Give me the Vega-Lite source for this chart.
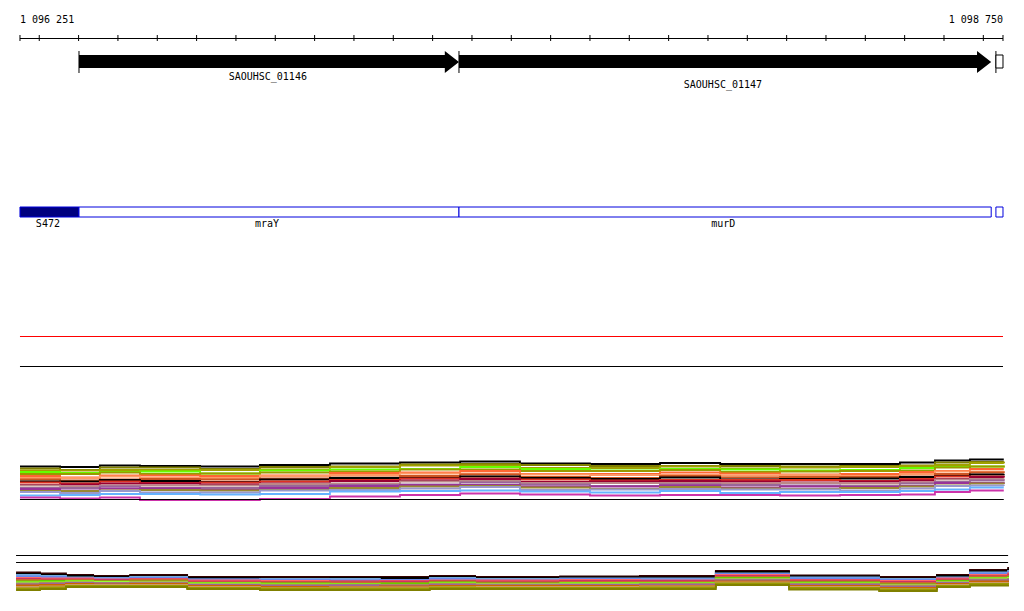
{
"$schema": "https://vega.github.io/schema/vega-lite/v6.json",
"width": 1024, "height": 611,
"autosize": {"type": "fit", "contains": "padding"},
"padding": 0,
"background": "white",
"config": {"view": {"stroke": null}},
"datasets": {
"mid": [
{"x":1096251,"a":466.5,"b":468.5,"c":470.5,"d":472,"e":474,"f":476,"g":478,"h":479.5,"i":481.5,"j":482.5,"k":485,"l":485.5,"m":488,"n":489,"o":491,"p":492,"q":495.5,"r":497.5},
{"x":1096353,"a":467,"b":470,"c":470.5,"d":473,"e":474,"f":477.5,"g":478,"h":480.5,"i":481.5,"j":483.5,"k":484.5,"l":486.5,"m":488,"n":490.5,"o":491,"p":493,"q":495,"r":498.5},
{"x":1096454,"a":465.5,"b":467.5,"c":470,"d":472,"e":472.5,"f":475.5,"g":476.5,"h":479.5,"i":480,"j":481.5,"k":483.5,"l":485.5,"m":486.5,"n":488.5,"o":490.5,"p":491,"q":494,"r":497.5},
{"x":1096556,"a":466,"b":467.5,"c":470,"d":471.5,"e":474,"f":475.5,"g":478,"h":479,"i":481,"j":483,"k":483.5,"l":485.5,"m":488,"n":488.5,"o":490,"p":492.5,"q":494,"r":500},
{"x":1096709,"a":466.5,"b":469,"c":470,"d":473.5,"e":473.5,"f":476,"g":478,"h":479.5,"i":482,"j":482.5,"k":484.5,"l":485.5,"m":488,"n":490,"o":490.5,"p":492.5,"q":494.5,"r":500},
{"x":1096861,"a":465,"b":467,"c":469.5,"d":470.5,"e":472.5,"f":475.5,"g":476,"h":478.5,"i":479.5,"j":481.5,"k":483.5,"l":484,"m":486,"n":488,"o":490,"p":490.5,"q":494,"r":499},
{"x":1097039,"a":463.5,"b":466.5,"c":467,"d":469.5,"e":471.5,"f":473,"g":475,"h":477.5,"i":478,"j":480,"k":481,"l":483.5,"m":485,"n":486,"o":488,"p":490,"q":491.5,"r":496.5},
{"x":1097217,"a":462.5,"b":464.5,"c":465.5,"d":469,"e":469.5,"f":472.5,"g":473.5,"h":476,"i":478,"j":478.5,"k":480.5,"l":481.5,"m":484.5,"n":485,"o":486.5,"p":488.5,"q":491,"r":495},
{"x":1097370,"a":461.5,"b":464,"c":465.5,"d":467,"e":469.5,"f":471,"g":473.5,"h":474.5,"i":476.5,"j":478.5,"k":479,"l":481,"m":482.5,"n":485,"o":486,"p":487,"q":490.5,"r":493.5},
{"x":1097522,"a":463.5,"b":465,"c":468,"d":469,"e":471,"f":474,"g":474.5,"h":477,"i":478,"j":479.5,"k":482,"l":483,"m":484.5,"n":486.5,"o":487.5,"p":490,"q":491.5,"r":494.5},
{"x":1097700,"a":464,"b":466,"c":468,"d":470.5,"e":471,"f":474,"g":475,"h":478,"i":479,"j":480.5,"k":481.5,"l":483,"m":486,"n":486.5,"o":489,"p":489.5,"q":492.5,"r":495.5},
{"x":1097878,"a":463,"b":466,"c":466.5,"d":469,"e":470,"f":472.5,"g":475,"h":476,"i":477.5,"j":480,"k":481,"l":483,"m":484.5,"n":485.5,"o":487,"p":489,"q":491,"r":495},
{"x":1098031,"a":464,"b":466,"c":468.5,"d":469.5,"e":472,"f":473.5,"g":475.5,"h":477.5,"i":479.5,"j":480,"k":481.5,"l":483.5,"m":485,"n":487.5,"o":488.5,"p":489.5,"q":493,"r":495},
{"x":1098183,"a":464,"b":466.5,"c":467.5,"d":470.5,"e":471.5,"f":474.5,"g":475,"h":477,"i":479,"j":480,"k":482.5,"l":483,"m":485.5,"n":486.5,"o":489,"p":489.5,"q":492,"r":495.5},
{"x":1098336,"a":464,"b":466,"c":467,"d":470,"e":471,"f":474,"g":476,"h":477,"i":478.5,"j":481,"k":481.5,"l":483.5,"m":486,"n":487,"o":488,"p":490.5,"q":492,"r":495},
{"x":1098488,"a":462.5,"b":465.5,"c":466,"d":468,"e":470.5,"f":472,"g":474,"h":476.5,"i":477,"j":479,"k":480.5,"l":482.5,"m":483.5,"n":486,"o":486.5,"p":488.5,"q":491,"r":494.5},
{"x":1098577,"a":460.5,"b":462.5,"c":465,"d":467,"e":467.5,"f":471,"g":471.5,"h":474,"i":476,"j":476.5,"k":479,"l":479.5,"m":482,"n":483,"o":485.5,"p":486,"q":489.5,"r":492},
{"x":1098666,"a":459.5,"b":462,"c":463,"d":466.5,"e":466.5,"f":469,"g":471.5,"h":472.5,"i":474.5,"j":476.5,"k":477,"l":479,"m":480.5,"n":483,"o":483.5,"p":485.5,"q":487.5,"r":490.5},
{"x":1098752,"a":459.5,"b":461.5,"c":463.5,"d":465.5,"e":467.5,"f":469,"g":471,"h":473.5,"i":474,"j":476,"k":477.5,"l":478.5,"m":481.5,"n":482,"o":484,"p":486,"q":487.5,"r":490.5}
],
"bot": [
{"x":1096241,"A":572.5,"B":574,"C":575,"D":576.5,"E":578,"F":579,"G":580,"H":581.5,"I":582.5,"J":583.5,"K":584.5,"L":585.5,"M":587,"N":588.5,"O":590},
{"x":1096302,"A":573.5,"B":575,"C":576,"D":577,"E":578.5,"F":579.5,"G":580.5,"H":581,"I":582.5,"J":583,"K":584,"L":585,"M":586.5,"N":587.5,"O":589},
{"x":1096368,"A":575,"B":576,"C":577.5,"D":578,"E":578.5,"F":579.5,"G":580,"H":581,"I":581.5,"J":582.5,"K":583,"L":584,"M":585,"N":586,"O":587},
{"x":1096437,"A":576,"B":577,"C":578,"D":578.5,"E":579.5,"F":580,"G":581,"H":581.5,"I":582,"J":583,"K":583.5,"L":584.5,"M":585,"N":586,"O":587},
{"x":1096531,"A":575,"B":576.5,"C":577,"D":578,"E":579,"F":579.5,"G":580,"H":581.5,"I":582,"J":582.5,"K":583.5,"L":584,"M":585,"N":586,"O":587},
{"x":1096676,"A":577,"B":578,"C":579.5,"D":579.5,"E":580.5,"F":581.5,"G":582.5,"H":583,"I":583.5,"J":584.5,"K":585,"L":586,"M":587,"N":588,"O":589},
{"x":1096861,"A":577,"B":578.5,"C":579,"D":580,"E":581,"F":582,"G":582.5,"H":583.5,"I":584.5,"J":585,"K":586,"L":587,"M":588,"N":588.5,"O":590},
{"x":1097039,"A":577,"B":578,"C":579,"D":580.5,"E":581.5,"F":581.5,"G":582.5,"H":584,"I":584.5,"J":585,"K":585.5,"L":587,"M":587.5,"N":588.5,"O":590},
{"x":1097166,"A":577,"B":578,"C":580,"D":580,"E":581,"F":581.5,"G":583,"H":583.5,"I":585,"J":585,"K":586,"L":586.5,"M":587.5,"N":588.5,"O":590},
{"x":1097293,"A":576,"B":577,"C":578,"D":579,"E":580.5,"F":581,"G":581.5,"H":582.5,"I":583.5,"J":584,"K":585,"L":586,"M":587,"N":587.5,"O":589},
{"x":1097408,"A":577,"B":578,"C":579,"D":580,"E":580.5,"F":581.5,"G":582.5,"H":583.5,"I":584,"J":584.5,"K":585.5,"L":586,"M":587,"N":588,"O":589},
{"x":1097624,"A":576.5,"B":577.5,"C":578.5,"D":579,"E":580,"F":581,"G":582,"H":583,"I":583.5,"J":584.5,"K":585,"L":586,"M":587,"N":588,"O":589},
{"x":1097827,"A":576,"B":577.5,"C":578.5,"D":579.5,"E":580.5,"F":581,"G":582,"H":583,"I":583.5,"J":584,"K":585,"L":586,"M":586.5,"N":587.5,"O":589},
{"x":1098020,"A":571,"B":572,"C":573.5,"D":574,"E":575,"F":576,"G":577,"H":578,"I":579,"J":579.5,"K":580.5,"L":581.5,"M":582.5,"N":583.5,"O":585},
{"x":1098206,"A":575.5,"B":576.5,"C":577.5,"D":578.5,"E":580,"F":580.5,"G":581.5,"H":582.5,"I":583.5,"J":584,"K":585,"L":586,"M":587,"N":588,"O":589.5},
{"x":1098435,"A":577,"B":578.5,"C":579,"D":580,"E":581,"F":582,"G":583,"H":584.5,"I":585,"J":585.5,"K":587,"L":588,"M":589,"N":589.5,"O":591},
{"x":1098582,"A":575,"B":576,"C":577.5,"D":578,"E":578.5,"F":579.5,"G":580.5,"H":581,"I":582,"J":582.5,"K":583,"L":584,"M":585,"N":586,"O":587},
{"x":1098666,"A":570,"B":571.5,"C":572.5,"D":573.5,"E":575,"F":576,"G":576.5,"H":578,"I":578.5,"J":579.5,"K":580.5,"L":581.5,"M":583,"N":584,"O":585.5},
{"x":1098763,"A":567,"B":568.5,"C":570,"D":571,"E":572.5,"F":573.5,"G":575,"H":576,"I":577,"J":578,"K":579,"L":580.5,"M":582,"N":583,"O":585}
],
"hr": [
{"x":1096251,"x2":1098750,"y":38.5},
{"x":1096251,"x2":1098750,"y":366.5},
{"x":1096251,"x2":1098752,"y":499.5},
{"x":1096241,"x2":1098763,"y":555.5},
{"x":1096241,"x2":1098763,"y":562.5}
],
"red": [{"x":1096251,"x2":1098750,"y":336.5}],
"vr": [
{"x":1096251,"y":35,"y2":41},{"x":1096300,"y":35,"y2":41},{"x":1096400,"y":35,"y2":41},{"x":1096500,"y":35,"y2":41},
{"x":1096600,"y":35,"y2":41},{"x":1096700,"y":35,"y2":41},{"x":1096800,"y":35,"y2":41},{"x":1096900,"y":35,"y2":41},
{"x":1097000,"y":35,"y2":41},{"x":1097100,"y":35,"y2":41},{"x":1097200,"y":35,"y2":41},{"x":1097300,"y":35,"y2":41},
{"x":1097400,"y":35,"y2":41},{"x":1097500,"y":35,"y2":41},{"x":1097600,"y":35,"y2":41},{"x":1097700,"y":35,"y2":41},
{"x":1097800,"y":35,"y2":41},{"x":1097900,"y":35,"y2":41},{"x":1098000,"y":35,"y2":41},{"x":1098100,"y":35,"y2":41},
{"x":1098200,"y":35,"y2":41},{"x":1098300,"y":35,"y2":41},{"x":1098400,"y":35,"y2":41},{"x":1098500,"y":35,"y2":41},
{"x":1098600,"y":35,"y2":41},{"x":1098700,"y":35,"y2":41},{"x":1098750,"y":35,"y2":41},
{"x":1096401,"y":51,"y2":73},{"x":1097367,"y":51,"y2":73},{"x":1098732,"y":51,"y2":73}
],
"arrows": [
{"g":"1","x":1096401,"y":55,"y2":68},{"g":"1","x":1097331,"y":55,"y2":68},{"g":"1","x":1097331,"y":51,"y2":73},{"g":"1","x":1097367,"y":62,"y2":62},
{"g":"2","x":1097367,"y":55,"y2":68},{"g":"2","x":1098684,"y":55,"y2":68},{"g":"2","x":1098684,"y":51,"y2":73},{"g":"2","x":1098720,"y":62,"y2":62}
],
"blue": [
{"c":"filled","x":1096251,"x2":1096401,"y":207,"y2":217},
{"c":"open","x":1096401,"x2":1097367,"y":207,"y2":217},
{"c":"open","x":1097367,"x2":1098720,"y":207,"y2":217},
{"c":"open","x":1098732,"x2":1098750,"y":207,"y2":217}
],
"gbox": [{"x":1098732,"x2":1098750,"y":55,"y2":68}],
"labl": [{"t":"1 096 251","x":1096251,"y":23}],
"labr": [{"t":"1 098 750","x":1098750,"y":23}],
"labc": [
{"t":"SAOUHSC_01146","x":1096881,"y":80},
{"t":"SAOUHSC_01147","x":1098038,"y":88},
{"t":"S472","x":1096322,"y":227},
{"t":"mraY","x":1096879,"y":227},
{"t":"murD","x":1098039,"y":227}
]
},
"encoding": {
"x": {"field":"x","type":"quantitative","scale":{"domain":[1096200.2,1098803.4],"nice":false,"zero":false},"axis":null},
"y": {"field":"y","type":"quantitative","scale":{"domain":[0,611],"reverse":true,"nice":false,"zero":false},"axis":null}
},
"layer": [
{"data":{"name":"mid"},
 "transform":[{"fold":["a","b","c","d","e","f","g","h","i","j","k","l","m","n","o","p","q","r"],"as":["s","y"]}],
 "mark":{"type":"line","interpolate":"step-after","strokeWidth":1.8},
 "encoding":{"color":{"field":"s","type":"nominal","legend":null,
   "scale":{"domain":["a","b","c","d","e","f","g","h","i","j","k","l","m","n","o","p","q","r"],
   "range":["#000000","#808000","#a0a000","#66ff00","#999900","#ff6633","#ff9966","#cc5522","#000000","#dd3322","#990033","#bb8888","#996699","#993399","#998833","#9999cc","#66b3ff","#cc33aa"]}}}},
{"data":{"name":"bot"},
 "transform":[{"fold":["A","B","C","D","E","F","G","H","I","J","K","L","M","N","O"],"as":["s","y"]}],
 "mark":{"type":"line","interpolate":"step-after","strokeWidth":1.8},
 "encoding":{"color":{"field":"s","type":"nominal","legend":null,
   "scale":{"domain":["A","B","C","D","E","F","G","H","I","J","K","L","M","N","O"],
   "range":["#330000","#000000","#77aadd","#6688ee","#ff6666","#cc3366","#cc6633","#66cc00","#99ff33","#aa8866","#996699","#cc6600","#cc9966","#999900","#808000"]}}}},
{"data":{"name":"hr"},"mark":{"type":"rule","color":"#000000","strokeWidth":1},"encoding":{"x2":{"field":"x2"}}},
{"data":{"name":"red"},"mark":{"type":"rule","color":"#ff0000","strokeWidth":1},"encoding":{"x2":{"field":"x2"}}},
{"data":{"name":"vr"},"mark":{"type":"rule","color":"#000000","strokeWidth":1},"encoding":{"y2":{"field":"y2"}}},
{"data":{"name":"arrows"},"mark":{"type":"area","color":"#000000","interpolate":"linear"},"encoding":{"y2":{"field":"y2"},"detail":{"field":"g"}}},
{"data":{"name":"gbox"},"mark":{"type":"rect","fill":"#ffffff","stroke":"#000000","strokeWidth":1},"encoding":{"x2":{"field":"x2"},"y2":{"field":"y2"}}},
{"data":{"name":"blue"},"mark":{"type":"rect","stroke":"#0000dd","strokeWidth":1},
 "encoding":{"x2":{"field":"x2"},"y2":{"field":"y2"},
  "fill":{"field":"c","type":"nominal","legend":null,"scale":{"domain":["filled","open"],"range":["#00007f","#ffffff"]}}}},
{"data":{"name":"labl"},"mark":{"type":"text","align":"left","baseline":"alphabetic","font":"DejaVu Sans Mono","fontSize":10,"color":"#000000"},"encoding":{"text":{"field":"t"}}},
{"data":{"name":"labr"},"mark":{"type":"text","align":"right","baseline":"alphabetic","font":"DejaVu Sans Mono","fontSize":10,"color":"#000000"},"encoding":{"text":{"field":"t"}}},
{"data":{"name":"labc"},"mark":{"type":"text","align":"center","baseline":"alphabetic","font":"DejaVu Sans Mono","fontSize":10,"color":"#000000"},"encoding":{"text":{"field":"t"}}}
],
"resolve": {"scale": {"color": "independent", "fill": "independent"}}
}
